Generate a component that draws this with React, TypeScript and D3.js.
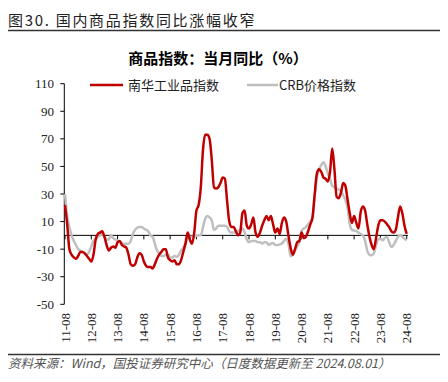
import React from "react";
import * as d3 from "d3";

const xLabels = ["11-08","12-08","13-08","14-08","15-08","16-08","17-08","18-08","19-08","20-08","21-08","22-08","23-08","24-08"];
const yTicks = [110, 90, 70, 50, 30, 10, -10, -30, -50];

// monthly, 2011-08 .. 2024-08
const nanhua = [
  22, 8, -10, -14, -16, -17, -15, -12, -12, -13, -15, -17,
  -19, -14, -3, 1, 2, 3, -1, -7, -11, -9, -8, -9,
  -5, -4, -7, -8, -9, -14, -21, -22, -21, -16, -13, -14,
  -19, -22, -23, -23, -24, -21, -17, -14, -12, -10, -10, -16,
  -18, -19, -18, -21, -21, -18, -12, -6, 2, -3, -6, 2,
  18, 22, 35, 62, 73, 73, 70, 55, 35, 34, 35, 38,
  42, 41, 25, 10, 6, 6, 3, 0, 2, 16, 18, 7,
  5, 8, 13, 2, -1, 2, 7, 11, 14, 11, 14, 8,
  2, 5, 1, 9, 13, 10, 0, -9, -14, -10, -5, -4,
  2, -2, -1, 3, 8, 13, 30, 45, 48, 46, 42, 41,
  39, 46, 63, 48, 28, 27, 31, 38, 36, 26, 16, 9,
  14, 9, 5, 17, 21, 18, 8, -1, -7, -10, -2, 7,
  11, 11, 10, 8, 6, 3, 2, 4, 13, 21, 16, 7,
  1
];
const crb = [
  30, 14, 6, 0, -4, -7, -10, -11, -12, -13, -14, -12,
  -8, -4, -3, -1, 0, 1, -1, -3, -3, 0, -2, -3,
  -4, -5, -6, -6, -6, -6, -4, 1, 4, 5.5, 6, 6,
  5, 4, 3, 0, -1, -6, -11, -13, -15, -15, -14, -14,
  -16, -16, -15, -15.5, -14, -11, -9, -6, -2, -1, -1, -0.5,
  -0.5, 0, 0, 6, 12, 14, 13, 11, 4, 5, 7, 7,
  7, 7, 6, 3, 2, 2, 2.4, 3, 4, 5, 2.4, -3,
  -5, -4, -4, -4, -5, -5, -6, -5, -5, -7, -6, -5.5,
  -7, -7, -6.5, -6, -4, -2.4, -6, -15, -14, -11, -8, -5,
  3, 5, 6, 8, 10, 13, 28, 42, 48, 51, 53, 50,
  45, 41, 36, 35, 34, 33, 32, 29, 26, 20, 8, 4,
  3.5, 3, 2, 1, 0, -4, -11, -14, -14.5, -13, -7, -3,
  -2.4, -3.6, -2, -1.2, -5, -8.5, -7, -4, -1.2, 0, -1, -2.4,
  -3.6
];

const seriesNames = ["南华工业品指数", "CRB价格指数"];
const colors = ["#C00000", "#BFBFBF"];

export default function App() {
  const W = 448, H = 382;
  const x = d3.scaleLinear().domain([0, 156]).range([65, 406.7]);
  const y = d3.scaleLinear().domain([-50, 110]).range([304.3, 83.7]);
  const line = d3.line<number>().x((_, i) => x(i)).y(d => y(d)).curve(d3.curveMonotoneX);
  const serif = "'Liberation Serif', 'Times New Roman', serif";
  const cjk = "'Noto Sans CJK SC', sans-serif";
  const x0 = 64.3;
  return (
    <svg width={W} height={H} style={{ position: "absolute", left: 0, top: 0, background: "#fff" }}>
      <text x={8} y={26} fontFamily={cjk} fontSize={15} fill="#222" letterSpacing={1.7}>图30. 国内商品指数同比涨幅收窄</text>
      <line x1={8} x2={440} y1={30.5} y2={30.5} stroke="#333" strokeWidth={1.5} />
      <text x={218} y={64} textAnchor="middle" fontFamily={cjk} fontSize={15} fontWeight="bold" fill="#000">商品指数：当月同比（%）</text>
      {/* legend */}
      <line x1={90} x2={123} y1={85} y2={85} stroke={colors[0]} strokeWidth={2.5} />
      <text x={128} y={90} fontFamily={cjk} fontSize={13} fill="#222">{seriesNames[0]}</text>
      <line x1={247} x2={278} y1={85} y2={85} stroke={colors[1]} strokeWidth={2.5} />
      <text x={279} y={90} fontFamily={cjk} fontSize={13} fill="#222">{seriesNames[1]}</text>
      {/* y axis */}
      <line x1={x0} x2={x0} y1={y(110)} y2={y(-50)} stroke="#000" strokeWidth={1} />
      {yTicks.map(t => (
        <g key={t}>
          <line x1={x0 - 4} x2={x0} y1={y(t)} y2={y(t)} stroke="#000" />
          <text x={54} y={y(t)} dy="0.35em" textAnchor="end" fontFamily={serif} fontSize={13} fill="#222">{t}</text>
        </g>
      ))}
      {/* x axis at zero */}
      <line x1={x0} x2={408} y1={y(0)} y2={y(0)} stroke="#000" strokeWidth={1} />
      {xLabels.map((l, i) => (
        <g key={l}>
          <line x1={x(i * 12)} x2={x(i * 12)} y1={y(0)} y2={y(0) + 4} stroke="#000" />
          <text transform={`translate(${x(i * 12)},313) rotate(-90)`} dy="0.35em" textAnchor="end" fontFamily={serif} fontSize={13} fill="#222">{l}</text>
        </g>
      ))}
      <path d={line(crb) || ""} fill="none" stroke={colors[1]} strokeWidth={2.5} strokeLinejoin="round" />
      <path d={line(nanhua) || ""} fill="none" stroke={colors[0]} strokeWidth={2.5} strokeLinejoin="round" />
      {/* footer */}
      <line x1={8} x2={440} y1={354.5} y2={354.5} stroke="#333" strokeWidth={1.5} />
      <text x={8} y={368} fontFamily={cjk} fontSize={12.5} fontStyle="italic" fill="#555">资料来源：Wind，国投证券研究中心（日度数据更新至 2024.08.01）</text>
    </svg>
  );
}
